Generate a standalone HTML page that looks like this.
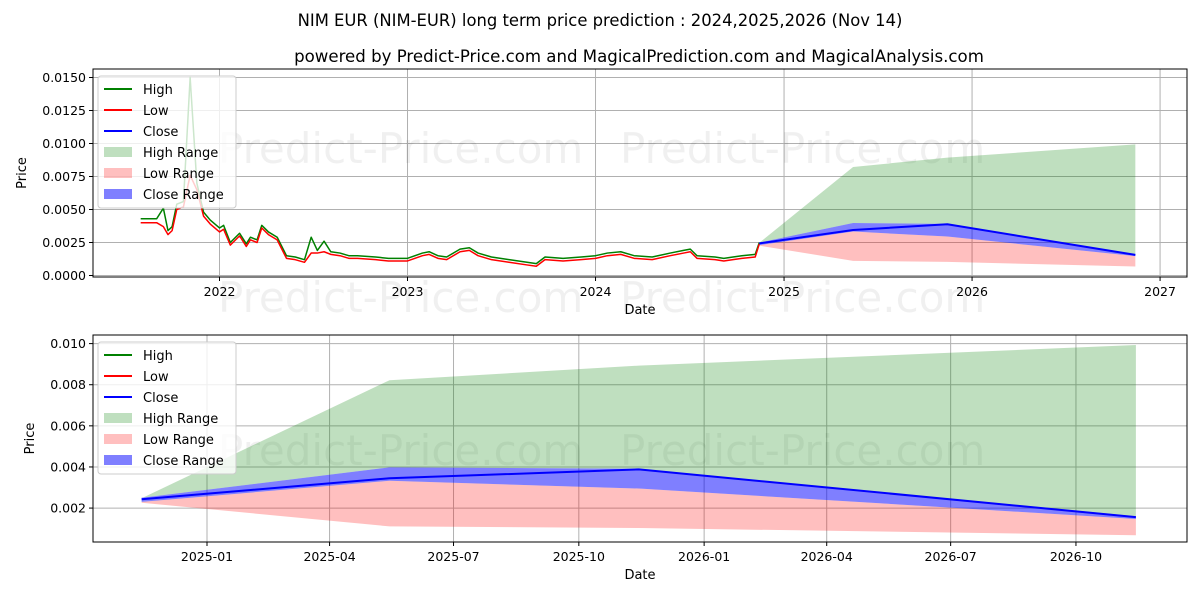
<!DOCTYPE html>
<html><head><meta charset="utf-8">
<style>
body{margin:0;background:#fff;}
svg{display:block;font-family:"DejaVu Sans","Liberation Sans",sans-serif;}
</style></head>
<body>
<svg id="chart" width="1200" height="600" viewBox="0 0 1200 600">
<text x="600" y="26" text-anchor="middle" font-size="16.4">NIM EUR (NIM-EUR) long term price prediction : 2024,2025,2026 (Nov 14)</text>
<text x="639" y="62" text-anchor="middle" font-size="16.6">powered by Predict-Price.com and MagicalPrediction.com and MagicalAnalysis.com</text>
</svg>
<script>
// ---- historical data ----
const histDates = ["2021-08-01","2021-09-01","2021-09-14","2021-09-23","2021-10-01","2021-10-10","2021-10-23","2021-11-05","2021-11-18","2021-12-01","2021-12-14","2022-01-01","2022-01-09","2022-01-22","2022-02-09","2022-02-22","2022-03-02","2022-03-15","2022-03-24","2022-04-06","2022-04-23","2022-05-11","2022-05-28","2022-06-15","2022-06-28","2022-07-10","2022-07-23","2022-08-05","2022-08-23","2022-09-09","2022-09-26","2022-10-31","2022-11-25","2023-01-01","2023-01-30","2023-02-12","2023-03-01","2023-03-18","2023-04-13","2023-05-01","2023-05-18","2023-06-13","2023-07-17","2023-08-21","2023-09-08","2023-09-25","2023-10-30","2023-12-04","2024-01-01","2024-01-24","2024-02-19","2024-03-16","2024-04-20","2024-05-25","2024-06-20","2024-07-03","2024-07-16","2024-08-20","2024-09-06","2024-09-24","2024-10-11","2024-11-06","2024-11-14"];
const histLow = [0.0040,0.0040,0.0037,0.0031,0.0034,0.0050,0.0052,0.0076,0.0065,0.0045,0.0039,0.0033,0.0035,0.0023,0.0030,0.0022,0.0027,0.0025,0.0036,0.0031,0.0027,0.0013,0.0012,0.0010,0.0017,0.0017,0.0018,0.0016,0.0015,0.0013,0.0013,0.0012,0.0011,0.0011,0.0015,0.0016,0.0013,0.0012,0.0018,0.0019,0.0015,0.0012,0.0010,0.0008,0.0007,0.0012,0.0011,0.0012,0.0013,0.0015,0.0016,0.0013,0.0012,0.0015,0.0017,0.0018,0.0013,0.0012,0.0011,0.0012,0.0013,0.0014,0.0024];
const histHigh = [0.0043,0.0043,0.0051,0.0034,0.0037,0.0054,0.0056,0.0150,0.0070,0.0048,0.0042,0.0036,0.0038,0.0025,0.0032,0.0024,0.0029,0.0027,0.0038,0.0033,0.0029,0.0015,0.0014,0.0012,0.0029,0.0019,0.0026,0.0018,0.0017,0.0015,0.0015,0.0014,0.0013,0.0013,0.0017,0.0018,0.0015,0.0014,0.0020,0.0021,0.0017,0.0014,0.0012,0.0010,0.0009,0.0014,0.0013,0.0014,0.0015,0.0017,0.0018,0.0015,0.0014,0.0017,0.0019,0.0020,0.0015,0.0014,0.0013,0.0014,0.0015,0.0016,0.0025];
// ---- forecast data ----
const fcDates = ["2024-11-14","2025-05-15","2025-11-14","2026-11-14"];
const fcHighTop = [0.00248,0.00822,0.00893,0.00993];
const fcLowBottom = [0.00226,0.00111,0.00103,0.00068];
const fcCloseTop = [0.00250,0.00398,0.00391,0.00160];
const fcCloseBottom = [0.00230,0.00333,0.00295,0.00147];
const fcClose = [0.00243,0.00345,0.00388,0.00156];
// ---- ticks ----
const topYTicks = [0,0.0025,0.005,0.0075,0.01,0.0125,0.015];
const topXTicks = ["2022","2023","2024","2025","2026","2027"];
const botYTicks = [0.002,0.004,0.006,0.008,0.010];
const botXTicks = ["2025-01","2025-04","2025-07","2025-10","2026-01","2026-04","2026-07","2026-10"];

const NS="http://www.w3.org/2000/svg";
const svg=document.getElementById('chart');
function mk(tag,attrs,parent){const e=document.createElementNS(NS,tag);for(const k in attrs)e.setAttribute(k,attrs[k]);(parent||svg).appendChild(e);return e;}
function day(s){return Date.parse(s+(s.length===4?"-01-01":s.length===7?"-01":""))/86400000;}

function panel(cfg){
  const g=mk('g',{});
  
  
  const X=d=>cfg.x0+(day(d)-day(cfg.d0))*cfg.pxDay;
  const Y=v=>cfg.y0-v*cfg.pxVal;
  const clipId=cfg.name+'-clip';
  const cp=mk('clipPath',{id:clipId},g);mk('rect',{x:cfg.L,y:cfg.T,width:cfg.R-cfg.L,height:cfg.B-cfg.T},cp);
  cfg.yTicks.forEach(v=>{
    const l=mk('line',{x1:cfg.L,x2:cfg.R,y1:Y(v),y2:Y(v),stroke:'#b0b0b0','stroke-width':1},g);
    
    mk('line',{x1:cfg.L-4,x2:cfg.L,y1:Y(v),y2:Y(v),stroke:'#000'},g);
    const t=mk('text',{x:cfg.L-7,y:Y(v)+4.5,'text-anchor':'end','font-size':12.5},g);
    t.textContent=v.toFixed(cfg.dec);
    
  });
  cfg.xTicks.forEach(d=>{
    const x=X(d);
    const l=mk('line',{x1:x,x2:x,y1:cfg.T,y2:cfg.B,stroke:'#b0b0b0','stroke-width':1},g);
    
    mk('line',{x1:x,x2:x,y1:cfg.B,y2:cfg.B+4,stroke:'#000'},g);
    const t=mk('text',{x:x,y:cfg.B+19,'text-anchor':'middle','font-size':12.5},g);
    t.textContent=d;
    
  });
  cfg.wm.forEach(p=>{
    const t=mk('text',{x:p[0],y:p[1],'font-size':42,fill:'#000','fill-opacity':0.06},g);
    t.textContent='Predict-Price.com';
    
  });
  const pg=mk('g',{'clip-path':'url(#'+clipId+')'},g);
  function band(top,bot,color,op,name){
    let pts=fcDates.map((d,i)=>X(d)+','+Y(top[i]));
    pts=pts.concat(fcDates.map((d,i)=>X(d)+','+Y(bot[i])).reverse());
    const p=mk('polygon',{points:pts.join(' '),fill:color,'fill-opacity':op},pg);
    
  }
  band(fcHighTop,fcCloseTop,'#008000',0.25,'high-range-band');
  band(fcCloseBottom,fcLowBottom,'#ff0000',0.25,'low-range-band');
  band(fcCloseTop,fcCloseBottom,'#0000ff',0.5,'close-range-band');
  function line(dates,vals,color,name,w){
    const p=mk('polyline',{points:dates.map((d,i)=>X(d)+','+Y(vals[i])).join(' '),fill:'none',stroke:color,'stroke-width':w,'stroke-linejoin':'round'},pg);
    
  }
  if(cfg.hist){
    line(histDates,histHigh,'#008000','high-line',1.5);
    line(histDates,histLow,'#ff0000','low-line',1.5);
  }
  line(fcDates,fcClose,'#0000ff','close-line',2);
  mk('rect',{x:cfg.L,y:cfg.T,width:cfg.R-cfg.L,height:cfg.B-cfg.T,fill:'none',stroke:'#000','stroke-width':1},g);
  const yt=mk('text',{x:0,y:0,'font-size':13,'text-anchor':'middle',transform:`translate(${cfg.ylx},${(cfg.T+cfg.B)/2}) rotate(-90)`},g);
  yt.textContent='Price';
  const xt=mk('text',{x:(cfg.L+cfg.R)/2,y:cfg.B+37,'font-size':13,'text-anchor':'middle'},g);
  xt.textContent='Date';
  const lg=mk('g',{},g);
  
  mk('rect',{x:cfg.L+5,y:cfg.T+7,width:138,height:132,rx:3,fill:'#fff','fill-opacity':0.8,stroke:'#ccc'},lg);
  const items=[['High','#008000','l'],['Low','#ff0000','l'],['Close','#0000ff','l'],['High Range','#008000',0.25],['Low Range','#ff0000',0.25],['Close Range','#0000ff',0.5]];
  items.forEach((it,i)=>{
    const yy=cfg.T+20+i*21;
    const e=mk('g',{},lg);
    
    if(it[2]==='l')mk('line',{x1:cfg.L+11,x2:cfg.L+39,y1:yy,y2:yy,stroke:it[1],'stroke-width':2},e);
    else mk('rect',{x:cfg.L+11,y:yy-5,width:28,height:10,fill:it[1],'fill-opacity':it[2]},e);
    const t=mk('text',{x:cfg.L+50,y:yy+5,'font-size':13},e);t.textContent=it[0];
  });
}
panel({name:'history-panel',hist:true,L:93,R:1187,T:69,B:277,x0:219.5,d0:'2022-01-01',pxDay:0.5151,y0:275.5,pxVal:13200,yTicks:topYTicks,xTicks:topXTicks,dec:4,ylx:26,wm:[[218,163],[620,163],[218,312],[620,312]]});
panel({name:'forecast-panel',hist:false,L:93,R:1187,T:335,B:542,x0:207,d0:'2025-01-01',pxDay:1.362,y0:549.2,pxVal:20560,yTicks:botYTicks,xTicks:botXTicks,dec:3,ylx:34,wm:[[218,465],[620,465]]});
</script>
</body></html>
